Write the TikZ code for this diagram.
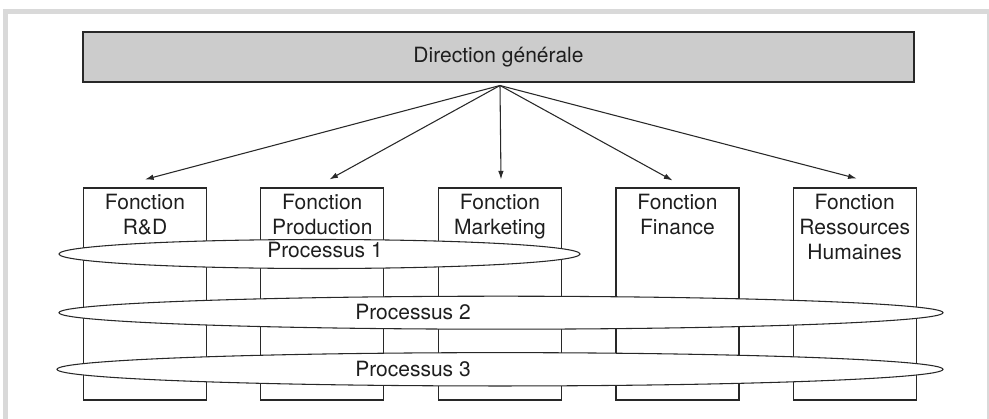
\documentclass[tikz,border=0pt]{standalone}
\usepackage{fontspec}
\setmainfont{TeX Gyre Heros}
\usepackage{tikz}
\usetikzlibrary{shapes.geometric,arrows.meta}

\definecolor{framegray}{RGB}{217,217,217}
\definecolor{boxgray}{RGB}{204,204,204}
\definecolor{linegray}{RGB}{40,40,40}
\definecolor{textgray}{RGB}{30,30,30}

\tikzset{
  txt/.style={text=textgray,font=\fontsize{15.75}{18.75}\selectfont,inner sep=0pt},
  topbox/.style={draw=linegray,line width=1.2pt,fill=boxgray,minimum width=623.25pt,minimum height=37.5pt,txt},
  fctbox/.style={draw=linegray,line width=0.8pt,minimum width=92.25pt,minimum height=159pt,inner sep=0pt},
  fcttext/.style={txt,anchor=north,align=center},
  proc/.style={ellipse,draw=linegray,line width=0.8pt,fill=white,inner sep=0pt},
  fleche/.style={draw=linegray,line width=0.8pt,-{Latex[length=6.5pt,width=4.2pt]}},
}

\begin{document}
\begin{tikzpicture}[x=0.75pt,y=0.75pt,yscale=-1]
\useasboundingbox (0,0) rectangle (989,418);
\clip (0,0) rectangle (989,418);

%Frame
\draw [framegray,line width=3.75pt] (5.8,440) -- (5.8,11.5) -- (989.2,11.5) -- (989.2,440);

%Top box
\node [topbox] (dg) at (498.5,57) {Direction générale};
\coordinate (hub) at (500,85.5);

%Function boxes
\node [fctbox] (rd) at (145,294) {};
\node [fctbox] (prod) at (322.3,294) {};
\node [fctbox] (mkt) at (500,294) {};
\node [fctbox] (fin) at (677.5,294) {};
\node [fctbox] (rh) at (854.7,294) {};

% Text Node
\node [fcttext] (rdt) at ([yshift=5]rd.north) {Fonction\\R\&D};
% Text Node
\node [fcttext] (prodt) at ([yshift=5]prod.north) {Fonction\\Production};
% Text Node
\node [fcttext] (mktt) at ([yshift=5]mkt.north) {Fonction\\Marketing};
% Text Node
\node [fcttext] (fint) at ([yshift=5]fin.north) {Fonction\\Finance};
% Text Node
\node [fcttext] (rht) at ([yshift=5]rh.north) {Fonction\\Ressources\\Humaines};

%Arrows
\draw [fleche] (hub) -- ([shift={(0,-8)}]rd.north);
\draw [fleche] (hub) -- ([shift={(7,-8)}]prod.north);
\draw [fleche] (hub) -- ([shift={(1,-8)}]mkt.north);
\draw [fleche] (hub) -- ([shift={(-5,-7)}]fin.north);
\draw [fleche] (hub) -- ([shift={(2,-9)}]rh.north);

%Processes
\node [proc,minimum width=390.75pt,minimum height=21.75pt] (p1) at (319.5,254) {};
\node [proc,minimum width=663pt,minimum height=24.75pt] (p2) at (501,312.7) {};
\node [proc,minimum width=664.5pt,minimum height=25pt] (p3) at (500,369.3) {};

% Text Node
\node [txt] (p1t) at ([shift={(5.5,-3.7)}]p1.center) {Processus 1};
% Text Node
\node [txt] (p2t) at ([shift={(-88,-1)}]p2.center) {Processus 2};
% Text Node
\node [txt] (p3t) at ([shift={(-87,0)}]p3.center) {Processus 3};

\end{tikzpicture}
\end{document}
